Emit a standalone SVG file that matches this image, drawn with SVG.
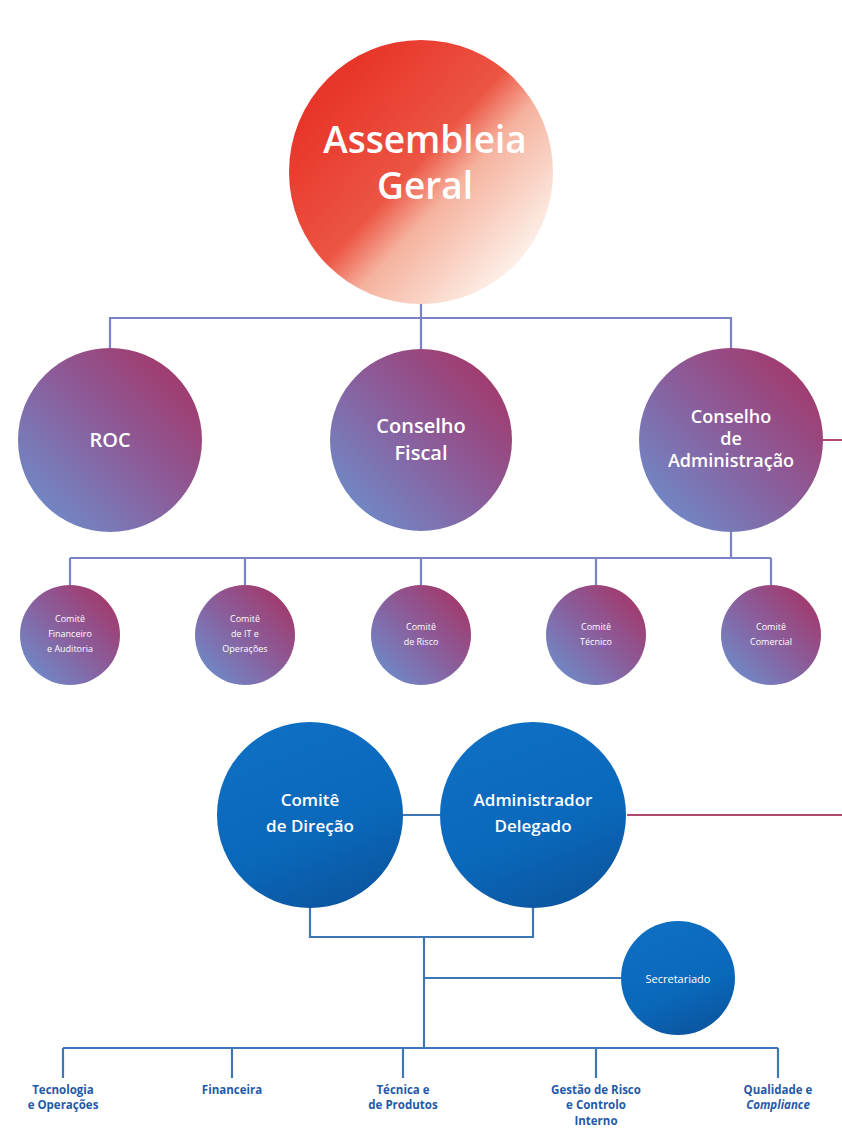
<svg xmlns="http://www.w3.org/2000/svg" width="842" height="1130" viewBox="0 0 842 1130">
<defs>
<linearGradient id="gRed" x1="0.15" y1="0.2" x2="0.85" y2="0.85">
<stop offset="0" stop-color="#e8352a"/>
<stop offset="0.45" stop-color="#ec5543"/>
<stop offset="0.62" stop-color="#f5b29e"/>
<stop offset="1" stop-color="#fdeee6"/>
</linearGradient>
<linearGradient id="gPur" x1="0.1" y1="0.9" x2="0.9" y2="0.1">
<stop offset="0" stop-color="#6f8ac8"/>
<stop offset="0.5" stop-color="#8a5e9c"/>
<stop offset="1" stop-color="#a3386a"/>
</linearGradient>
<linearGradient id="gBlue" x1="0.3" y1="0" x2="0.7" y2="1">
<stop offset="0" stop-color="#0f6fc2"/>
<stop offset="0.6" stop-color="#0a68bb"/>
<stop offset="1" stop-color="#0b559e"/>
</linearGradient>
<style>
.t{font-family:"Open Sans","Noto Sans","Liberation Sans",sans-serif;fill:#fff;text-anchor:middle;font-weight:600}
.s{font-weight:normal}
.lb{font-family:"Open Sans","Noto Sans","Liberation Sans",sans-serif;fill:#1f5aa8;font-weight:bold;font-size:11.5px;text-anchor:middle}
.cp{fill:none;stroke:#7c82c6;stroke-width:2.2}
.cb{fill:none;stroke:#3d77b6;stroke-width:2.2}
.cr{fill:none;stroke:#b04b6e;stroke-width:2}
</style>
</defs>
<rect width="842" height="1130" fill="#fff"/>
<g id="connectors">
<path class="cp" d="M421 304V318M110 348V318H731V348M421 318V349"/>
<path class="cr" d="M823 440H842"/>
<path class="cp" d="M731 532V558M70 558H771M70 558V585M245 558V585M421 558V585M596 558V585M771 558V585"/>
<path class="cb" d="M403 815H440"/>
<path class="cr" d="M627 815H842"/>
<path class="cb" d="M310 908V937H533V908M424 937V1048M424 978H621"/>
<path class="cb" d="M63 1048H778M63 1048V1078M232 1048V1078M403 1048V1078M596 1048V1078M778 1048V1078"/>
</g>
<g id="assembleia">
<circle cx="421" cy="172" r="132" fill="url(#gRed)"/>
<text class="t" x="425" y="153" font-size="37">Assembleia</text>
<text class="t" x="425" y="199" font-size="37">Geral</text>
</g>
<g id="roc">
<circle cx="110" cy="440" r="92" fill="url(#gPur)"/>
<text class="t" x="110" y="447" font-size="20">ROC</text>
</g>
<g id="conselho-fiscal">
<circle cx="421" cy="440" r="91" fill="url(#gPur)"/>
<text class="t" x="421" y="433" font-size="20">Conselho</text>
<text class="t" x="421" y="460" font-size="20">Fiscal</text>
</g>
<g id="conselho-admin">
<circle cx="731" cy="440" r="92" fill="url(#gPur)"/>
<text class="t" x="731" y="423" font-size="18">Conselho</text>
<text class="t" x="731" y="445" font-size="18">de</text>
<text class="t" x="731" y="467" font-size="18">Administração</text>
</g>
<g id="comite-financeiro">
<circle cx="70" cy="635" r="50" fill="url(#gPur)"/>
<text class="t s" x="70" y="622" font-size="9">Comitê</text>
<text class="t s" x="70" y="637" font-size="9">Financeiro</text>
<text class="t s" x="70" y="652" font-size="9">e Auditoria</text>
</g>
<g id="comite-it">
<circle cx="245" cy="635" r="50" fill="url(#gPur)"/>
<text class="t s" x="245" y="622" font-size="9">Comitê</text>
<text class="t s" x="245" y="637" font-size="9">de IT e</text>
<text class="t s" x="245" y="652" font-size="9">Operações</text>
</g>
<g id="comite-risco">
<circle cx="421" cy="635" r="50" fill="url(#gPur)"/>
<text class="t s" x="421" y="630" font-size="9">Comitê</text>
<text class="t s" x="421" y="645" font-size="9">de Risco</text>
</g>
<g id="comite-tecnico">
<circle cx="596" cy="635" r="50" fill="url(#gPur)"/>
<text class="t s" x="596" y="630" font-size="9">Comitê</text>
<text class="t s" x="596" y="645" font-size="9">Técnico</text>
</g>
<g id="comite-comercial">
<circle cx="771" cy="635" r="50" fill="url(#gPur)"/>
<text class="t s" x="771" y="630" font-size="9">Comitê</text>
<text class="t s" x="771" y="645" font-size="9">Comercial</text>
</g>
<g id="comite-direcao">
<circle cx="310" cy="815" r="93" fill="url(#gBlue)"/>
<text class="t" x="310" y="806" font-size="17">Comitê</text>
<text class="t" x="310" y="832" font-size="17">de Direção</text>
</g>
<g id="administrador-delegado">
<circle cx="533" cy="815" r="93" fill="url(#gBlue)"/>
<text class="t" x="533" y="806" font-size="17">Administrador</text>
<text class="t" x="533" y="832" font-size="17">Delegado</text>
</g>
<g id="secretariado">
<circle cx="678" cy="978" r="57" fill="url(#gBlue)"/>
<text class="t s" x="678" y="983" font-size="11">Secretariado</text>
</g>
<g id="tecnologia"><text class="lb" x="63" y="1094">Tecnologia</text><text class="lb" x="63" y="1109">e Operações</text></g>
<g id="financeira"><text class="lb" x="232" y="1094">Financeira</text></g>
<g id="tecnica"><text class="lb" x="403" y="1094">Técnica e</text><text class="lb" x="403" y="1109">de Produtos</text></g>
<g id="gestao-risco"><text class="lb" x="596" y="1094">Gestão de Risco</text><text class="lb" x="596" y="1109">e Controlo</text><text class="lb" x="596" y="1125">Interno</text></g>
<g id="qualidade"><text class="lb" x="778" y="1094">Qualidade e</text><text class="lb" x="778" y="1109" font-style="italic">Compliance</text></g>
</svg>
